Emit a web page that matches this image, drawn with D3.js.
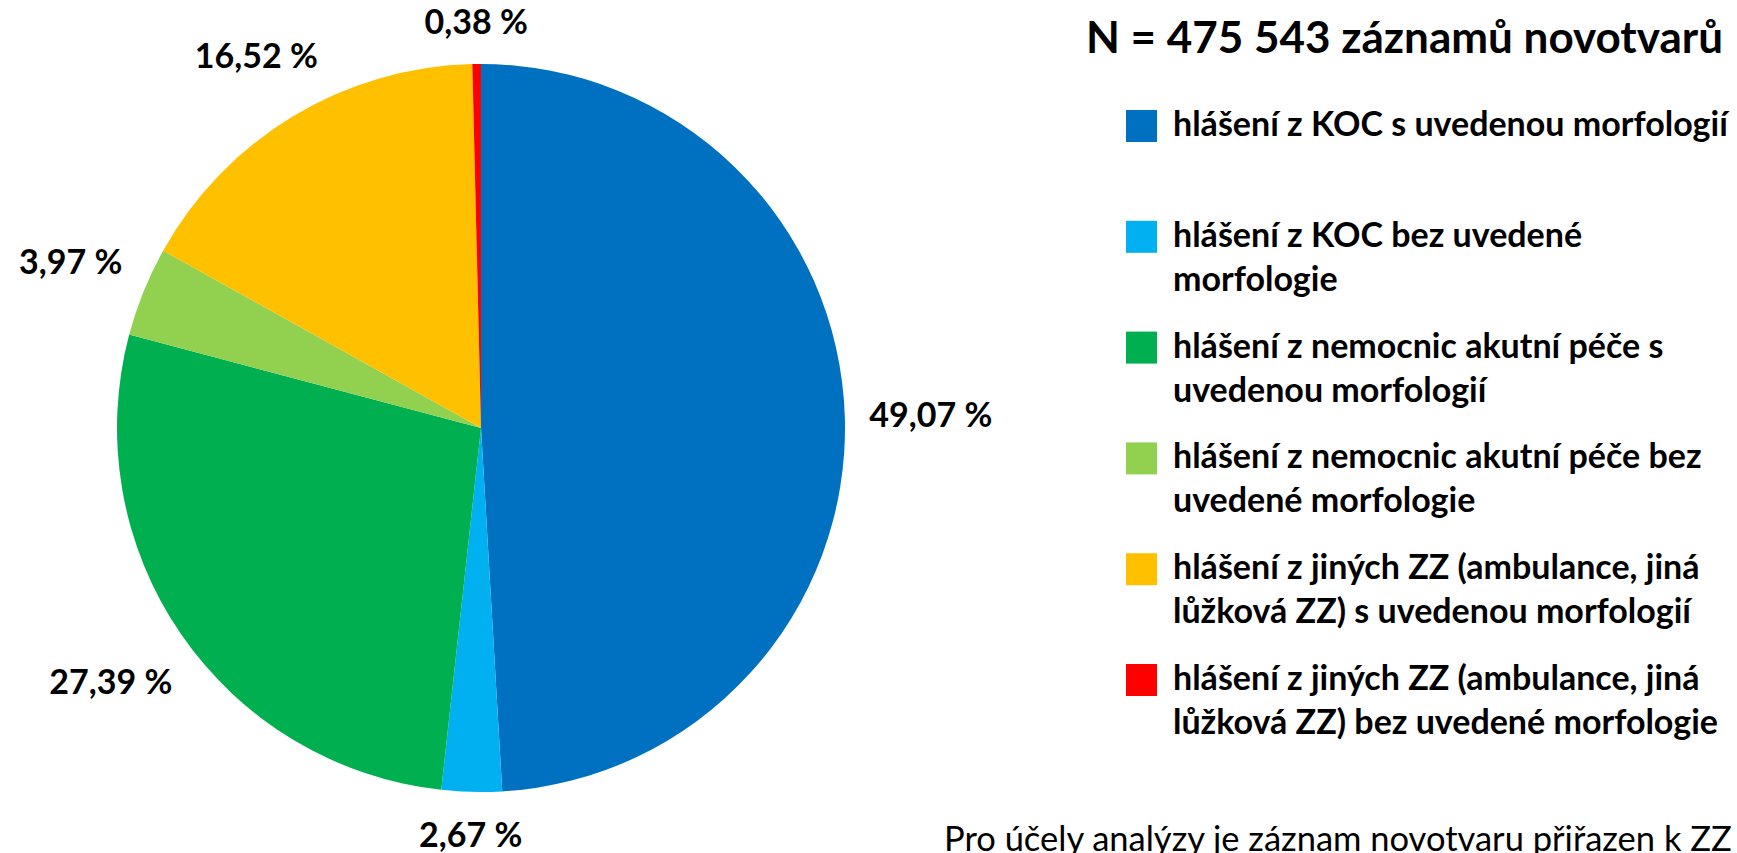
<!DOCTYPE html>
<html lang="cs">
<head>
    <meta charset="UTF-8">
    <title>Záznamy novotvarů podle zdroje hlášení</title>
    <script src="https://d3js.org/d3.v7.min.js"></script>
    <style>
        body { margin: 0; background: #ffffff; }
        svg text { font-family: Lato, "Open Sans", sans-serif; fill: #000000; }
    </style>
</head>
<body>
    <svg id="chart" width="1737" height="853"></svg>

    <script>
        // Data (shares in %)
        const categories = [
            "hlášení z KOC s uvedenou morfologií",
            "hlášení z KOC bez uvedené\nmorfologie",
            "hlášení z nemocnic akutní péče s\nuvedenou morfologií",
            "hlášení z nemocnic akutní péče bez\nuvedené morfologie",
            "hlášení z jiných ZZ (ambulance, jiná\nlůžková ZZ) s uvedenou morfologií",
            "hlášení z jiných ZZ (ambulance, jiná\nlůžková ZZ) bez uvedené morfologie"
        ];
        const shares = [49.07, 2.67, 27.39, 3.97, 16.52, 0.38];
        const colors = ["#0070C0", "#00B0F0", "#00B050", "#92D050", "#FFC000", "#FF0000"];
        const title = "N = 475 543 záznamů novotvarů";
        const note = "Pro účely analýzy je záznam novotvaru přiřazen k ZZ";

        // Layout constants
        const cx = 481, cy = 428, radius = 364;
        const labelSize = 34;
        const labelPad = 24;

        const svg = d3.select("#chart");

        const data = categories.map((c, i) => ({ name: c, value: shares[i], color: colors[i] }));

        // Pie, clockwise from 12 o'clock, kept in data order
        const pie = d3.pie().sort(null).value(d => d.value);
        const arc = d3.arc().innerRadius(0).outerRadius(radius);
        const arcs = pie(data);

        const g = svg.append("g").attr("transform", `translate(${cx}, ${cy})`);

        g.selectAll("path")
            .data(arcs)
            .enter()
            .append("path")
            .attr("d", arc)
            .attr("fill", d => d.data.color);

        // Percent labels outside the pie (comma as decimal separator)
        const fmt = v => d3.format(".2f")(v).replace(".", ",") + " %";

        const labels = g.selectAll(".label")
            .data(arcs)
            .enter()
            .append("text")
            .attr("class", "label")
            .attr("text-anchor", "middle")
            .attr("font-size", labelSize + "px")
            .attr("font-weight", "bold")
            .text(d => fmt(d.data.value));

        // push each label out along its mid angle until its box clears the arc
        labels.each(function(d) {
            const a = (d.startAngle + d.endAngle) / 2;
            const w = this.getComputedTextLength();
            const h = labelSize * 1.05;
            const ext = Math.abs(Math.sin(a)) * w / 2 + Math.abs(Math.cos(a)) * h / 2;
            const dist = radius + labelPad + ext;
            d3.select(this)
                .attr("x", Math.sin(a) * dist)
                .attr("y", -Math.cos(a) * dist + labelSize * 0.36);
        });

        // Title
        svg.append("text")
            .attr("x", 1086)
            .attr("y", 53)
            .attr("font-size", "44px")
            .attr("font-weight", "bold")
            .text(title);

        // Legend
        const legend = svg.append("g")
            .attr("transform", "translate(1126, 110)");

        const item = legend.selectAll(".item")
            .data(data)
            .enter()
            .append("g")
            .attr("class", "item")
            .attr("transform", (d, i) => `translate(0, ${i * 110.8})`);

        item.append("rect")
            .attr("width", 31)
            .attr("height", 32)
            .attr("fill", d => d.color);

        item.append("text")
            .attr("font-size", "34px")
            .attr("font-weight", "bold")
            .selectAll("tspan")
            .data(d => d.name.split("\n"))
            .enter()
            .append("tspan")
            .attr("x", 47)
            .attr("y", (d, i) => 26 + i * 44)
            .text(d => d);

        // Note at the bottom (partly cut off in the original)
        svg.append("text")
            .attr("x", 944)
            .attr("y", 851)
            .attr("font-size", "34.5px")
            .text(note);
    </script>
</body>
</html>
